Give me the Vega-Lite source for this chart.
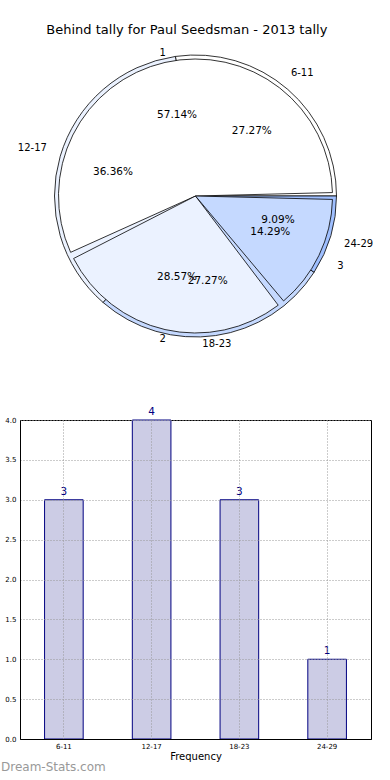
{
  "$schema": "https://vega.github.io/schema/vega-lite/v6.json",
  "background": "white",
  "padding": {"left": 0, "top": 24, "right": 0, "bottom": 0},
  "title": {"text": "Behind tally for Paul Seedsman - 2013 tally", "fontSize": 13, "font": "DejaVu Sans", "fontWeight": "normal", "anchor": "middle", "offset": -3, "color": "black"},
  "config": {"view": {"stroke": null}, "font": "DejaVu Sans"},
  "datasets": {
    "ages": [
      {"group": "6-11", "rank": 1, "count": 3, "share": 0.2727},
      {"group": "12-17", "rank": 2, "count": 4, "share": 0.3636},
      {"group": "18-23", "rank": 3, "count": 3, "share": 0.2727},
      {"group": "24-29", "rank": 4, "count": 1, "share": 0.0909}
    ],
    "tally": [
      {"group": "1", "rank": 1, "count": 4, "share": 0.5714},
      {"group": "2", "rank": 2, "count": 2, "share": 0.2857},
      {"group": "3", "rank": 3, "count": 1, "share": 0.1429}
    ]
  },
  "bounds": "flush",
  "spacing": 72,
  "vconcat": [
    {
      "width": 351,
      "height": 304,
      "layer": [
        {
          "data": {"name": "ages"},
          "mark": {"type": "arc", "outerRadius": 141, "stroke": "black", "strokeWidth": 0.8},
          "encoding": {
            "theta": {"field": "count", "type": "quantitative", "stack": true, "scale": {"range": [1.5708, -4.7124]}},
            "order": {"field": "rank", "type": "quantitative"},
            "color": {"field": "group", "type": "nominal", "legend": null, "scale": {"domain": ["6-11", "12-17", "18-23", "24-29"], "range": ["#ffffff", "#ebf2ff", "#c5d9ff", "#9fbfff"]}}
          }
        },
        {
          "data": {"name": "tally"},
          "mark": {"type": "arc", "outerRadius": 137, "stroke": "black", "strokeWidth": 0.8, "padAngle": 0.05},
          "encoding": {
            "theta": {"field": "count", "type": "quantitative", "stack": true, "scale": {"range": [1.5708, -4.7124]}},
            "order": {"field": "rank", "type": "quantitative"},
            "color": {"field": "group", "type": "nominal", "legend": null, "scale": {"domain": ["1", "2", "3"], "range": ["#ffffff", "#ebf2ff", "#c5d9ff"]}}
          }
        },
        {
          "data": {"name": "ages"},
          "mark": {"type": "text", "radius": 86, "fontSize": 10.5, "color": "black"},
          "encoding": {
            "theta": {"field": "count", "type": "quantitative", "stack": true, "scale": {"range": [1.5708, -4.7124]}},
            "order": {"field": "rank", "type": "quantitative"},
            "text": {"field": "share", "type": "quantitative", "format": ".2%"}
          }
        },
        {
          "data": {"name": "tally"},
          "mark": {"type": "text", "radius": 83, "fontSize": 10.5, "color": "black"},
          "encoding": {
            "theta": {"field": "count", "type": "quantitative", "stack": true, "scale": {"range": [1.5708, -4.7124]}},
            "order": {"field": "rank", "type": "quantitative"},
            "text": {"field": "share", "type": "quantitative", "format": ".2%"}
          }
        },
        {
          "data": {"name": "ages"},
          "mark": {"type": "text", "radius": 170, "fontSize": 10, "color": "black"},
          "encoding": {
            "theta": {"field": "count", "type": "quantitative", "stack": true, "scale": {"range": [1.5708, -4.7124]}},
            "order": {"field": "rank", "type": "quantitative"},
            "text": {"condition": {"test": "datum.group === '12-17' || datum.group === '24-29'", "field": "group", "type": "nominal"}, "value": ""}
          }
        },
        {
          "data": {"name": "ages"},
          "mark": {"type": "text", "radius": 163, "fontSize": 10, "color": "black"},
          "encoding": {
            "theta": {"field": "count", "type": "quantitative", "stack": true, "scale": {"range": [1.5708, -4.7124]}},
            "order": {"field": "rank", "type": "quantitative"},
            "text": {"condition": {"test": "datum.group === '6-11'", "field": "group", "type": "nominal"}, "value": ""}
          }
        },
        {
          "data": {"name": "ages"},
          "mark": {"type": "text", "radius": 150, "fontSize": 10, "color": "black"},
          "encoding": {
            "theta": {"field": "count", "type": "quantitative", "stack": true, "scale": {"range": [1.5708, -4.7124]}},
            "order": {"field": "rank", "type": "quantitative"},
            "text": {"condition": {"test": "datum.group === '18-23'", "field": "group", "type": "nominal"}, "value": ""}
          }
        },
        {
          "data": {"name": "tally"},
          "mark": {"type": "text", "radius": 147, "fontSize": 10, "color": "black"},
          "encoding": {
            "theta": {"field": "count", "type": "quantitative", "stack": true, "scale": {"range": [1.5708, -4.7124]}},
            "order": {"field": "rank", "type": "quantitative"},
            "text": {"condition": {"test": "datum.group !== '3'", "field": "group", "type": "nominal"}, "value": ""}
          }
        },
        {
          "data": {"name": "tally"},
          "mark": {"type": "text", "radius": 161, "fontSize": 10, "color": "black"},
          "encoding": {
            "theta": {"field": "count", "type": "quantitative", "stack": true, "scale": {"range": [1.5708, -4.7124]}},
            "order": {"field": "rank", "type": "quantitative"},
            "text": {"condition": {"test": "datum.group === '3'", "field": "group", "type": "nominal"}, "value": ""}
          }
        }
      ],
      "resolve": {"scale": {"theta": "independent", "color": "independent"}}
    },
    {
      "width": 351,
      "height": 319,
      "data": {"name": "ages"},
      "view": {"stroke": "black", "strokeWidth": 1},
      "title": {"text": "Dream-Stats.com", "orient": "bottom", "anchor": "start", "dx": 0, "offset": 1, "fontSize": 12, "fontWeight": "normal", "color": "#999999"},
      "encoding": {
        "x": {"field": "group", "type": "nominal", "sort": null, "scale": {"paddingInner": 0.56, "paddingOuter": 0.28},
          "axis": {"title": "Frequency", "titleFontSize": 10, "titleFontWeight": "normal", "titleColor": "black", "titlePadding": 2, "labelFontSize": 7, "labelColor": "black", "labelAngle": 0, "labelPadding": 3, "ticks": false, "domainColor": "black", "grid": true, "gridColor": "#999999", "gridDash": [1, 2], "zindex": 1}},
        "y": {"field": "count", "type": "quantitative", "scale": {"domain": [0, 4], "nice": false},
          "axis": {"title": null, "values": [0, 0.5, 1, 1.5, 2, 2.5, 3, 3.5, 4], "format": ".1f", "labelOverlap": false, "labelFontSize": 7, "labelColor": "black", "labelPadding": 4, "ticks": false, "domainColor": "black", "grid": true, "gridColor": "#999999", "gridDash": [1, 2], "minExtent": 19, "maxExtent": 19, "zindex": 1}}
      },
      "layer": [
        {
          "mark": {"type": "bar", "fill": "#ccccE5", "stroke": "#000080", "strokeWidth": 1}
        },
        {
          "mark": {"type": "text", "baseline": "bottom", "dy": -3, "fontSize": 10.5, "color": "#000080"},
          "encoding": {
            "text": {"field": "count", "type": "quantitative"}
          }
        }
      ]
    }
  ]
}
